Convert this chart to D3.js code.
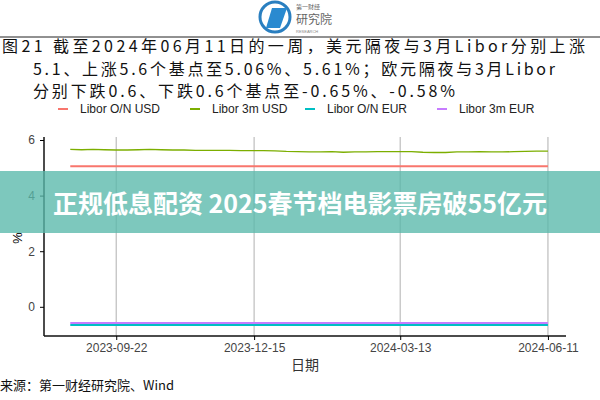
<!DOCTYPE html><html><head><meta charset="utf-8">
<script src="https://cdn.jsdelivr.net/npm/d3@7"></script>
<style>body{margin:0;background:#fff}svg{display:block}</style></head><body>
<svg id="c" width="600" height="400"></svg>
<script>
const startDate="2023-08-25", endDate="2024-06-11";
const tickLabels=["2023-09-22","2023-12-15","2024-03-13","2024-06-11"];
const yTicks=[0,2,4,6];
const seriesNames=["Libor O/N USD","Libor 3m USD","Libor O/N EUR","Libor 3m EUR"];
const colors=["#F8766D","#7CAE00","#00BFC4","#C77CFF"];
const usd3m=[5.66,5.65,5.66,5.65,5.64,5.64,5.65,5.66,5.65,5.64,5.64,5.63,5.63,5.63,5.63,5.62,5.62,5.62,5.61,5.59,5.58,5.57,5.57,5.58,5.56,5.57,5.57,5.58,5.58,5.58,5.58,5.56,5.55,5.55,5.57,5.57,5.58,5.57,5.57,5.58,5.59,5.60,5.60];
const usdON=5.06, eurON=-0.65, eur3m=-0.58;

const svg=d3.select("#c");
const p=d3.timeParse("%Y-%m-%d");
const x=d3.scaleTime().domain([p("2023-08-09"),p("2024-06-22")]).range([44,566]);
const y=d3.scaleLinear().domain([-1.05,6]).range([336,140]);
const t0=p(startDate),t1=p(endDate);
const wk=usd3m.map((v,i)=>({d:new Date(+t0+(+t1-+t0)*i/(usd3m.length-1)),v}));
const flat=v=>[{d:t0,v},{d:t1,v}];

svg.append("g").selectAll("line").data(tickLabels).join("line")
 .attr("x1",d=>x(p(d))).attr("x2",d=>x(p(d))).attr("y1",137).attr("y2",336)
 .attr("stroke","#bdbdbd").attr("stroke-width",1.2);
const line=d3.line().x(d=>x(d.d)).y(d=>y(d.v));
[[flat(usdON),0],[wk,1],[flat(eur3m),3],[flat(eurON),2]].forEach(([d,i])=>
 svg.append("path").datum(d).attr("d",line).attr("fill","none").attr("stroke",colors[i]).attr("stroke-width",i==1?1.3:2));
const ya=svg.append("g").attr("transform","translate(44,0)").call(d3.axisLeft(y).tickValues(yTicks).tickFormat(d3.format("d")).tickSize(4).tickPadding(5));
ya.select(".domain").attr("d","M0,137V336").attr("stroke","#111").attr("stroke-width",1.5);
ya.selectAll("text").attr("font-family","Liberation Sans, Arial").attr("font-size",12).attr("fill","#444");
const xa=svg.append("g").attr("transform","translate(0,336)").call(d3.axisBottom(x).tickValues(tickLabels.map(p)).tickFormat(d3.timeFormat("%Y-%m-%d")).tickSize(4).tickPadding(3));
xa.select(".domain").attr("d","M44,0H566").attr("stroke","#111").attr("stroke-width",1.5);
xa.selectAll("text").attr("font-family","Liberation Sans, Arial").attr("font-size",12).attr("fill","#444");
svg.append("text").attr("transform","translate(13,238) rotate(90)").attr("text-anchor","middle").attr("font-family","Liberation Sans").attr("font-size",13).text("%");
svg.append("text").attr("x",305).attr("y",370).attr("text-anchor","middle").attr("font-family","Noto Sans CJK SC").attr("font-size",14).attr("fill","#333").text("日期");
svg.append("text").attr("x",0).attr("y",390).attr("font-family","Noto Sans CJK SC").attr("font-size",13).attr("fill","#111").text("来源：第一财经研究院、Wind");

const tf="Noto Sans CJK SC";
[["图21  截至2024年06月11日的一周，美元隔夜与3月Libor分别上涨",2,52,583],
 ["5.1、上涨5.6个基点至5.06%、5.61%；欧元隔夜与3月Libor",33,75,522],
 ["分别下跌0.6、下跌0.6个基点至-0.65%、-0.58%",33,97,422]].forEach(([t,xx,yy,w])=>
 svg.append("text").attr("x",xx).attr("y",yy).attr("font-family",tf).attr("font-size",16).attr("fill","#111")
  .attr("textLength",w).attr("lengthAdjust","spacing").text(t));
svg.append("line").attr("x1",0).attr("x2",600).attr("y1",37).attr("y2",37).attr("stroke","#222").attr("stroke-width",1);
const lx=[58,190,305,437];
seriesNames.forEach((n,i)=>{
 svg.append("line").attr("x1",lx[i]).attr("x2",lx[i]+10).attr("y1",109).attr("y2",109).attr("stroke",colors[i]).attr("stroke-width",2);
 svg.append("text").attr("x",lx[i]+22).attr("y",113).attr("font-family","Liberation Sans").attr("font-size",12).attr("fill","#222").text(n);
});
svg.append("circle").attr("cx",275).attr("cy",17).attr("r",15).attr("fill","none").attr("stroke","#2a7fc0").attr("stroke-width",3);
svg.append("path").attr("d","M266,28L272,8L287,8L280,28Z").attr("fill","#2a8ad0");
svg.append("text").attr("x",296).attr("y",24).attr("font-family",tf).attr("font-size",12).attr("fill","#666").text("研究院");
svg.append("text").attr("x",296).attr("y",9).attr("font-family",tf).attr("font-size",6).attr("fill","#666").text("第一财经");
svg.append("text").attr("x",296).attr("y",33).attr("font-family","Liberation Sans").attr("font-size",4).attr("fill","#888").text("RESEARCH");
svg.append("rect").attr("x",0).attr("y",171).attr("width",600).attr("height",62).attr("fill","rgb(88,184,170)").attr("opacity",0.78);
svg.append("text").attr("x",300).attr("y",213).attr("text-anchor","middle").attr("font-family",tf).attr("font-weight","bold").attr("font-size",25).attr("fill","#fff").text("正规低息配资 2025春节档电影票房破55亿元");
</script></body></html>
